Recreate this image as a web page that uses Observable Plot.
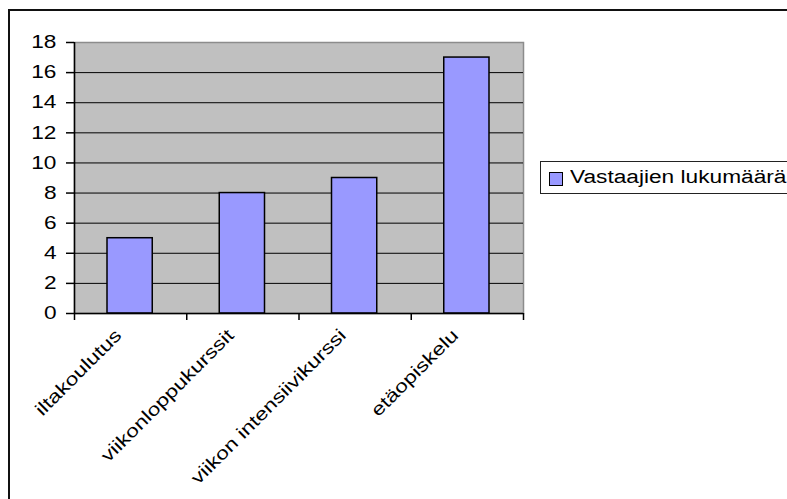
<!DOCTYPE html>
<html>
<head>
<meta charset="utf-8">
<script src="https://cdn.jsdelivr.net/npm/d3@7"></script>
<script src="https://cdn.jsdelivr.net/npm/@observablehq/plot@0.6"></script>
<style>
  html, body { margin: 0; padding: 0; background: #fff; }
  body { width: 787px; height: 499px; overflow: hidden; position: relative; font-family: "Liberation Sans", Arial, sans-serif; }
  #outer { position: absolute; left: 8px; top: 9px; width: 820px; height: 520px; border-left: 2px solid #111; border-top: 2px solid #111; }
  #chart { position: absolute; left: 0; top: 0; }
  #legend { position: absolute; left: 540px; top: 161px; width: 270px; height: 31px; border: 1px solid #222; background: #fff; }
  #legend .sw { position: absolute; left: 8px; top: 10px; width: 12px; height: 12px; border: 1px solid #000; background: #9999ff; }
  #legend .lb { position: absolute; left: 29px; top: 6px; font-size: 18px; line-height: 18px; white-space: nowrap; transform: scaleX(1.26); transform-origin: 0 50%; color: #000; }
</style>
</head>
<body>
<div id="outer"></div>
<div id="chart"></div>
<div id="legend"><div class="sw"></div><div class="lb"></div></div>
<script>
const categories = ["iltakoulutus", "viikonloppukurssit", "viikon intensiivikurssi", "etäopiskelu"];
const values = [5, 8, 9, 17];
const yTicks = [0, 2, 4, 6, 8, 10, 12, 14, 16, 18];
const seriesName = "Vastaajien lukumäärä";

const data = categories.map((c, i) => ({ c, i, v: values[i] }));
const xEdges = d3.range(categories.length + 1);

const TEXT_STRETCH = 1.26;

const plot = Plot.plot({
  width: 787,
  height: 499,
  marginLeft: 74,
  marginRight: 264,
  marginTop: 42,
  marginBottom: 186,
  style: { fontFamily: "Liberation Sans, Arial, sans-serif", fontSize: "18px", background: "transparent", color: "#000", overflow: "visible" },
  x: { domain: [0, categories.length], axis: null },
  y: { domain: [0, 18], axis: null },
  marks: [
    Plot.frame({ fill: "#c0c0c0", stroke: "#8c8c8c", strokeWidth: 1.5 }),
    Plot.gridY(yTicks.filter(t => t > 0 && t < 18), { stroke: "#000", strokeOpacity: 1, strokeWidth: 1 }),
    Plot.rectY(data, { x1: "i", x2: d => d.i + 1, y: "v", insetLeft: 33, insetRight: 34, fill: "#9999ff", stroke: "#000", strokeWidth: 1.5 }),
    Plot.ruleX([0], { stroke: "#000", strokeWidth: 1.5 }),
    Plot.ruleY([0], { stroke: "#000", strokeWidth: 1.5 }),
    Plot.axisY({ ticks: yTicks, tickSize: 8, tickPadding: 10, strokeWidth: 1.5, tickFormat: d => String(d), label: null }),
    Plot.axisX({ ticks: xEdges, tickSize: 7, strokeWidth: 1.5, tickFormat: () => "", label: null }),
    Plot.text(data, { x: d => d.i + 0.5, text: "c", frameAnchor: "bottom", dx: -8, dy: 23, rotate: -45, textAnchor: "end", fill: "#000" })
  ]
});

// stretch every text horizontally along its own direction, like the reference rendering
const isNum = v => v != null && v !== "" && !isNaN(+v);
plot.querySelectorAll("text").forEach(t => {
  const xa = t.getAttribute("x"), ya = t.getAttribute("y");
  const x = isNum(xa) ? +xa : 0;
  const y = isNum(ya) ? +ya : 0;
  if (isNum(xa)) t.removeAttribute("x");
  if (isNum(ya)) t.removeAttribute("y");
  const tr = t.getAttribute("transform") || "";
  t.setAttribute("transform", `${tr} translate(${x},${y}) scale(${TEXT_STRETCH},1)`.trim());
});

document.getElementById("chart").appendChild(plot);
document.querySelector("#legend .lb").textContent = seriesName;
</script>
</body>
</html>
